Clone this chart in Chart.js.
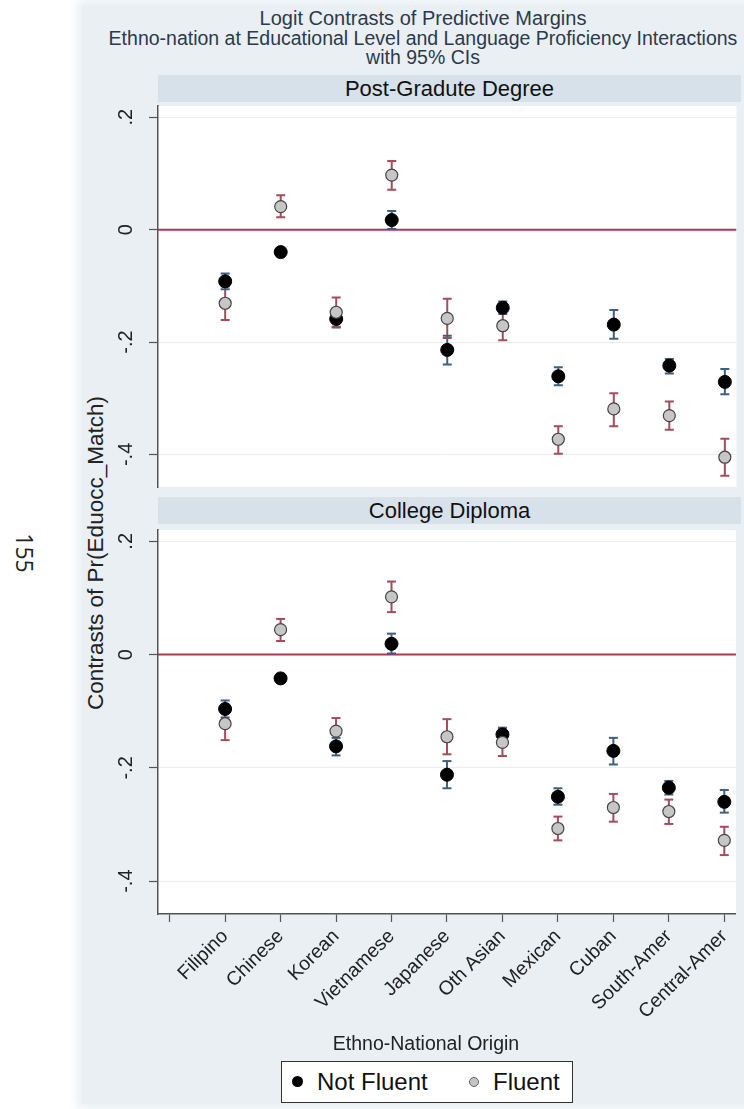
<!DOCTYPE html>
<html>
<head>
<meta charset="utf-8">
<script src="https://cdn.jsdelivr.net/npm/chart.js@4.4.1/dist/chart.umd.min.js"></script>
<style>
  body { margin: 0; width: 744px; height: 1109px; position: relative; overflow: hidden;
         background: #fff; font-family: "Liberation Sans", Arial, sans-serif; color: #222; }
  .abs { position: absolute; white-space: nowrap; }
  #bg { left: 82px; top: 5px; width: 700px; height: 1099px; background: #e9eff3;
        box-shadow: 0 0 10px 5px #e9eff3; }
  .title { left: 78px; width: 690px; height: 20px; text-align: center; font-size: 19.5px; line-height: 20px; color: #2c3a4c; }
  .strip { left: 158px; width: 583px; height: 27px; background: #d6e1e9; text-align: center;
           font-size: 22px; line-height: 28px; color: #111; }
  canvas { position: absolute; left: 80px; }
  .dot { position: absolute; border-radius: 50%; }
</style>
</head>
<body>
<div id="bg" class="abs"></div>
<div class="abs" style="left:5px;top:541px;width:40px;height:24px;line-height:24px;text-align:center;font-family:'Open Sans',sans-serif;font-size:23px;color:#222;transform:rotate(90deg);">155</div>

<div class="abs title" style="top:8px;font-size:20px;">Logit Contrasts of Predictive Margins</div>
<div class="abs title" style="top:28px;">Ethno-nation at Educational Level and Language Proficiency Interactions</div>
<div class="abs title" style="top:47px;">with 95% CIs</div>

<div class="abs strip" style="top:75px;">Post-Gradute Degree</div>
<div class="abs strip" style="top:497px;">College Diploma</div>

<div class="abs" style="left:-104px;top:540px;width:400px;height:26px;line-height:26px;text-align:center;font-size:22.5px;color:#222;transform:rotate(-90deg);">Contrasts of Pr(Eduocc_Match)</div>

<canvas id="panelTop" width="664" height="427" style="top:83px;"></canvas>
<canvas id="panelBottom" width="664" height="523" style="top:507px;"></canvas>

<div class="abs" style="left:276px;top:1031px;width:300px;height:24px;line-height:24px;text-align:center;font-size:19.5px;color:#222;">Ethno-National Origin</div>

<div class="abs" style="left:281px;top:1061px;width:290px;height:40px;border:1.5px solid #333;background:#fff;">
  <div class="dot" style="left:10px;top:14px;width:11px;height:11px;background:#000;"></div>
  <div class="abs" style="left:35px;top:6px;font-size:24px;line-height:28px;color:#111;">Not Fluent</div>
  <div class="dot" style="left:187px;top:15px;width:8px;height:8px;background:#c4c4c4;border:1px solid #666;"></div>
  <div class="abs" style="left:211px;top:6px;font-size:24px;line-height:28px;color:#111;">Fluent</div>
</div>

<script>
const categories = ["Filipino", "Chinese", "Korean", "Vietnamese", "Japanese",
  "Oth Asian", "Mexican", "Cuban", "South-Amer", "Central-Amer"];

const xTickValues = [0, 1, 2, 3, 4, 5, 6, 7, 8, 9, 10];
const yTickValues = [-0.4, -0.2, 0, 0.2];
const yTickLabels = ["-.4", "-.2", "0", ".2"];

// Post-Graduate Degree
const pgNotFluent   = [-0.092, -0.040, -0.159, 0.017, -0.214, -0.139, -0.261, -0.169, -0.242, -0.271];
const pgNotFluentLo = [-0.106, -0.047, -0.174, 0.001, -0.240, -0.150, -0.277, -0.194, -0.256, -0.293];
const pgNotFluentHi = [-0.078, -0.033, -0.145, 0.033, -0.189, -0.128, -0.245, -0.143, -0.230, -0.248];
const pgFluent      = [-0.131, 0.041, -0.147, 0.097, -0.158, -0.171, -0.373, -0.319, -0.331, -0.405];
const pgFluentLo    = [-0.161, 0.022, -0.173, 0.071, -0.193, -0.197, -0.399, -0.350, -0.356, -0.438];
const pgFluentHi    = [-0.101, 0.061, -0.121, 0.122, -0.123, -0.145, -0.350, -0.291, -0.306, -0.372];

// College Diploma
const cdNotFluent   = [-0.096, -0.042, -0.162, 0.019, -0.212, -0.141, -0.251, -0.170, -0.235, -0.260];
const cdNotFluentLo = [-0.111, -0.050, -0.178, 0.002, -0.236, -0.153, -0.265, -0.194, -0.247, -0.279];
const cdNotFluentHi = [-0.081, -0.034, -0.147, 0.037, -0.188, -0.129, -0.236, -0.147, -0.223, -0.239];
const cdFluent      = [-0.122, 0.044, -0.135, 0.102, -0.145, -0.155, -0.307, -0.270, -0.277, -0.328];
const cdFluentLo    = [-0.151, 0.024, -0.160, 0.075, -0.176, -0.179, -0.328, -0.295, -0.299, -0.354];
const cdFluentHi    = [-0.093, 0.063, -0.112, 0.129, -0.114, -0.131, -0.286, -0.246, -0.256, -0.304];

const xMin = -0.21, xMax = 10.21;
const yMin = -0.458, yMax = 0.22;

Chart.defaults.font.family = "'Liberation Sans', Arial, sans-serif";
Chart.defaults.color = "#222";

const nfColor = "#3f5f80";
const flColor = "#a24c5c";

function pointData(vals) {
  return vals.map((v, i) => ({ x: i + 1, y: v }));
}

// vertical CI segments, broken by null points
function whiskerData(lo, hi) {
  const pts = [];
  lo.forEach((v, i) => {
    pts.push({ x: i + 1, y: v }, { x: i + 1, y: hi[i] }, { x: i + 1, y: null });
  });
  return pts;
}

function capData(lo, hi) {
  return lo.flatMap((v, i) => [{ x: i + 1, y: v }, { x: i + 1, y: hi[i] }]);
}

const plotBg = {
  id: "plotBg",
  beforeDraw(chart) {
    const { ctx, chartArea: a } = chart;
    ctx.save();
    ctx.fillStyle = "#fff";
    ctx.fillRect(a.left, a.top, a.width, a.height);
    ctx.restore();
  },
};

function makePanel(canvasId, nf, nfLo, nfHi, fl, flLo, flHi, showX) {
  const ctx = document.getElementById(canvasId).getContext("2d");
  return new Chart(ctx, {
    type: "scatter",
    data: {
      datasets: [
        {
          label: "Fluent",
          data: pointData(fl),
          pointRadius: 6,
          backgroundColor: "#c6c6c6",
          borderColor: "#444",
          borderWidth: 1.2,
        },
        {
          label: "Not Fluent",
          data: pointData(nf),
          pointRadius: 6.5,
          backgroundColor: "#000",
          borderColor: "#000",
          borderWidth: 1,
        },
        {
          label: "flCaps",
          data: capData(flLo, flHi),
          pointStyle: "line",
          pointRadius: 4.5,
          borderColor: flColor,
          borderWidth: 2,
        },
        {
          label: "nfCaps",
          data: capData(nfLo, nfHi),
          pointStyle: "line",
          pointRadius: 4.5,
          borderColor: nfColor,
          borderWidth: 2,
        },
        {
          label: "flCI",
          data: whiskerData(flLo, flHi),
          showLine: true,
          spanGaps: false,
          pointRadius: 0,
          borderColor: flColor,
          borderWidth: 2,
        },
        {
          label: "nfCI",
          data: whiskerData(nfLo, nfHi),
          showLine: true,
          spanGaps: false,
          pointRadius: 0,
          borderColor: nfColor,
          borderWidth: 2,
        },
        {
          label: "zero",
          data: [{ x: xMin, y: 0 }, { x: xMax, y: 0 }],
          showLine: true,
          pointRadius: 0,
          borderColor: "#b03552",
          borderWidth: 2,
        },
      ],
    },
    options: {
      responsive: false,
      animation: false,
      events: [],
      layout: { padding: { top: 20, bottom: showX ? 0 : 20, right: 3, left: 0 } },
      plugins: { legend: { display: false }, tooltip: { enabled: false } },
      scales: {
        x: {
          type: "linear",
          display: showX,
          min: xMin,
          max: xMax,
          afterBuildTicks: (s) => { s.ticks = xTickValues.map((v) => ({ value: v })); },
          afterFit: (s) => { if (showX) s.height = 116; },
          grid: { drawOnChartArea: false, tickColor: "#555", tickLength: 8, tickWidth: 1.2 },
          border: { color: "#555", width: 1.5 },
          ticks: {
            autoSkip: false,
            minRotation: 45,
            maxRotation: 45,
            padding: 3,
            font: { size: 19.5 },
            color: "#222",
            callback: (v) => (v >= 1 ? categories[v - 1] : ""),
          },
        },
        y: {
          min: yMin,
          max: yMax,
          afterBuildTicks: (s) => { s.ticks = yTickValues.map((v) => ({ value: v })); },
          afterFit: (s) => { s.width = 78; },
          grid: { color: "#ececec", lineWidth: 1, tickColor: "#555", tickLength: 9, tickWidth: 1.2 },
          border: { color: "#555", width: 1.5 },
          ticks: {
            minRotation: 90,
            maxRotation: 90,
            crossAlign: "center",
            padding: 11,
            font: { size: 20 },
            color: "#222",
            callback: (v) => yTickLabels[yTickValues.indexOf(v)],
          },
        },
      },
    },
    plugins: [plotBg],
  });
}

makePanel("panelTop", pgNotFluent, pgNotFluentLo, pgNotFluentHi, pgFluent, pgFluentLo, pgFluentHi, false);
makePanel("panelBottom", cdNotFluent, cdNotFluentLo, cdNotFluentHi, cdFluent, cdFluentLo, cdFluentHi, true);
</script>
</body>
</html>
